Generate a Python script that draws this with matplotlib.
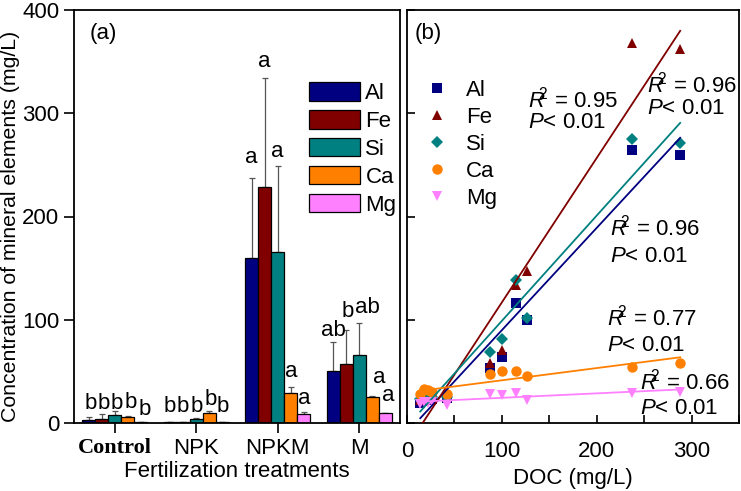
import numpy as np
import matplotlib

matplotlib.use("Agg")
import matplotlib.pyplot as plt
from matplotlib.patches import Patch

plt.rcParams["font.family"] = ["Liberation Sans", "DejaVu Sans"]
plt.rcParams["mathtext.fontset"] = "custom"
plt.rcParams["mathtext.rm"] = "Liberation Sans"
plt.rcParams["mathtext.it"] = "Liberation Sans:italic"

# ---- panel (a): bars per treatment ----
treatments = ["Control", "NPK", "NPKM", "M"]
elements = ["Al", "Fe", "Si", "Ca", "Mg"]
colors = ["#000080", "#800000", "#008080", "#FF8000", "#FF80FF"]

al_mean = [3, 0.5, 160, 50.5]
fe_mean = [4, 1, 228.5, 57]
si_mean = [8, 4, 166, 65.5]
ca_mean = [6, 9.5, 29.5, 25.5]
mg_mean = [0.5, 1, 8.5, 9.5]

al_err = [3, 0.3, 77, 27.5]
fe_err = [5, 0.3, 106, 33]
si_err = [3.5, 1, 83, 31]
ca_err = [0.5, 2, 5.5, 1]
mg_err = [0, 0, 2.5, 0.5]

al_sig = ["b", "b", "a", "ab"]
fe_sig = ["b", "b", "a", "b"]
si_sig = ["b", "b", "a", "ab"]
ca_sig = ["b", "b", "a", "a"]
mg_sig = ["b", "b", "a", "a"]

al_sig_y = [18.5, 16, 257, 90]
fe_sig_y = [18.5, 16, 350, 108]
si_sig_y = [18.5, 16, 262.5, 112]
ca_sig_y = [19.5, 22.5, 49.5, 44]
mg_sig_y = [13.5, 16, 24, 27]
# small sideways nudges of the letters (in category units)
sig_dx = [[0.02, 0.0, 0.0, 0.0],
          [0.03, 0.0, 0.0, 0.02],
          [0.03, 0.0, 0.0, 0.10],
          [0.04, 0.02, 0.0, 0.08],
          [0.05, 0.0, 0.0, 0.04]]

# ---- panel (b): DOC vs element ----
doc = [14, 18, 22, 26, 42, 88, 100, 115, 126, 237, 288]
al_b = [19, 21, 22, 23, 24, 53, 64, 116.5, 100, 264, 260]
fe_b = [22, 24, 25, 26, 29, 58, 71, 134, 147, 368, 362]
si_b = [23, 25, 26, 25, 25, 69, 81, 138.5, 101.5, 275, 271]
ca_b = [28, 33, 32, 30, 28.5, 47.5, 50, 50, 46, 54.5, 58.5]
mg_b = [18, 20, 19, 20, 17.5, 28, 27, 29.5, 22.5, 28.7, 30.3]

# regression lines (slope, intercept)
fit_slope = [0.991, 1.399, 1.02, 0.1185, 0.043]
fit_icept = [-9.2, -23.1, -3.1, 29.5, 20.1]
fit_r2 = ["0.96", "0.95", "0.96", "0.77", "0.66"]
fit_label_xy = [(213.7, 189, 161), (127.4, 313, 291.5), (252.6, 327.5, 305),
                (210.5, 102, 75.5), (245.3, 39.7, 14.5)]

markers = ["s", "^", "D", "o", "v"]
msizes = [6.5, 7.5, 6.5, 7.5, 7.5]

FS = 16

fig = plt.figure(figsize=(7.41, 4.91), dpi=100)
ax_a = fig.add_axes([74 / 741, 1 - 423 / 491, 326 / 741, 413 / 491])
ax_b = fig.add_axes([407 / 741, 1 - 423 / 491, 332 / 741, 413 / 491])

x = np.arange(len(treatments))
width = 0.16
means = [al_mean, fe_mean, si_mean, ca_mean, mg_mean]
errs = [al_err, fe_err, si_err, ca_err, mg_err]
sigs = [al_sig, fe_sig, si_sig, ca_sig, mg_sig]
sig_ys = [al_sig_y, fe_sig_y, si_sig_y, ca_sig_y, mg_sig_y]
for i, (name, color) in enumerate(zip(elements, colors)):
    pos = x + (i - 2) * width
    ax_a.bar(pos, means[i], width, color=color, edgecolor="black", linewidth=0.9, zorder=2)
    ax_a.errorbar(pos, means[i], yerr=[np.zeros(len(x)), errs[i]], fmt="none",
                  ecolor="#555555", elinewidth=0.9, capsize=2.5, capthick=0.9, zorder=1)
    for p, s, yy, dx in zip(pos, sigs[i], sig_ys[i], sig_dx[i]):
        ax_a.text(p + dx, yy, s, ha="center", va="center", fontsize=FS)

ax_a.set_xlim(-0.5, 3.5)
ax_a.set_ylim(0, 400)
ax_a.set_yticks([0, 100, 200, 300, 400])
ax_a.set_xticks(x)
ax_a.set_xticklabels(treatments)
ax_a.get_xticklabels()[0].set_fontfamily("Liberation Serif")
ax_a.get_xticklabels()[0].set_fontweight("bold")
ax_a.tick_params(labelsize=FS, direction="out", length=7, width=1.2)
ax_a.set_xlabel("Fertilization treatments", fontsize=FS, labelpad=2)
ax_a.set_ylabel("Concentration of mineral elements (mg/L)", fontsize=15.3)
ax_a.yaxis.set_label_coords(-0.165, 0.475)
ax_a.text(0.049, 0.944, "(a)", transform=ax_a.transAxes, fontsize=FS, va="center")

handles_a = [Patch(facecolor=c, edgecolor="black", linewidth=0.9) for c in colors]
ax_a.legend(handles_a, elements, loc="upper left", bbox_to_anchor=(0.72, 0.825),
            frameon=False, fontsize=FS, handlelength=2.3, handleheight=0.9,
            handletextpad=0.25, labelspacing=0.27, borderpad=0, borderaxespad=0)

b_series = [al_b, fe_b, si_b, ca_b, mg_b]
xfit = np.array([min(doc), max(doc)])
for i, (name, color) in enumerate(zip(elements, colors)):
    ax_b.plot(doc, b_series[i], linestyle="none", marker=markers[i], markersize=msizes[i],
              color=color, markeredgewidth=0, label=name, zorder=3)
for i, color in enumerate(colors):
    ax_b.plot(xfit, fit_slope[i] * xfit + fit_icept[i], color=color, linewidth=1.3, zorder=4)
    lx, ry, py = fit_label_xy[i]
    ax_b.text(lx, ry, r"$R^{\!\!\!2}$ = " + fit_r2[i], fontsize=FS, va="center", ha="left")
    ax_b.text(lx, py, r"$P$< 0.01", fontsize=FS, va="center", ha="left")

ax_b.set_xlim(0, 350)
ax_b.set_ylim(0, 400)
ax_b.set_xticks([0, 100, 200, 300])
ax_b.set_xticks([50, 150, 250, 350], minor=True)
ax_b.set_yticks([0, 100, 200, 300, 400])
ax_b.set_yticklabels([])
ax_b.tick_params(labelsize=FS, direction="in", length=6, width=1.2, which="both")
ax_b.tick_params(axis="x", pad=13)
ax_b.set_xlabel("DOC (mg/L)", fontsize=FS, labelpad=4)
ax_b.text(0.024, 0.944, "(b)", transform=ax_b.transAxes, fontsize=FS, va="center")
ax_b.legend(loc="upper left", bbox_to_anchor=(0.057, 0.83), frameon=False, fontsize=FS,
            handlelength=1.0, handletextpad=0.8, labelspacing=0.27, borderpad=0,
            borderaxespad=0)

for ax in (ax_a, ax_b):
    for sp in ax.spines.values():
        sp.set_linewidth(1.3)

fig.savefig("out.png", dpi=100)
